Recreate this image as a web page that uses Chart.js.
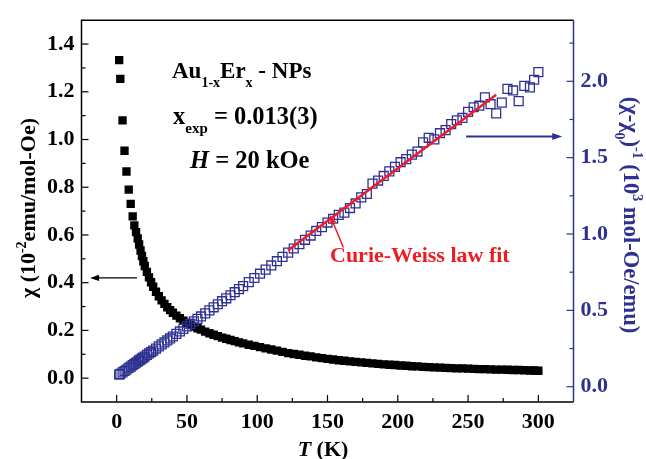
<!DOCTYPE html>
<html>
<head>
<meta charset="utf-8">
<script src="https://cdn.jsdelivr.net/npm/chart.js@4.4.0/dist/chart.umd.min.js"></script>
<style>
  html, body { margin: 0; padding: 0; background: #fff; }
  #chartBox { width: 646px; height: 459px; }
</style>
</head>
<body>
<div id="chartBox"><canvas id="chiChart"></canvas></div>
<script>
// Datos
const temps = [
  1.8, 2.6, 4.2, 5.6, 7.0, 8.6, 10.0, 11.4, 12.6, 13.8,
  15, 16, 17, 18, 19, 20, 21.5, 23, 24.5, 26,
  28, 30, 32, 34, 36, 38, 40, 42.5, 45, 47.5,
  50, 52.5, 55, 57.5, 60, 63, 66, 69, 72, 75,
  78, 81, 84, 87, 90, 94, 98, 102, 106, 110,
  114, 118, 122, 126, 130, 134, 138, 142, 146, 150,
  154, 158, 162, 166, 170, 174, 178, 182, 186, 190,
  194, 198, 202, 206, 210, 214, 218, 222, 226, 230,
  234, 238, 242, 246, 250, 254, 258, 262, 266, 270,
  274, 278, 282, 286, 290, 294, 297, 300
];
const chiValues = [
  1.333, 1.254, 1.080, 0.953, 0.866, 0.790, 0.730, 0.678, 0.640, 0.612,
  0.585, 0.560, 0.535, 0.512, 0.490, 0.470, 0.445, 0.422, 0.402, 0.383,
  0.362, 0.343, 0.326, 0.311, 0.297, 0.285, 0.274, 0.262, 0.251, 0.241,
  0.232, 0.224, 0.216, 0.209, 0.203, 0.195, 0.188, 0.182, 0.176, 0.170,
  0.165, 0.160, 0.155, 0.150, 0.146, 0.140, 0.135, 0.130, 0.125, 0.120,
  0.115, 0.110, 0.105, 0.101, 0.098, 0.094, 0.091, 0.087, 0.084, 0.081,
  0.078, 0.075, 0.073, 0.070, 0.068, 0.066, 0.064, 0.062, 0.060, 0.058,
  0.056, 0.055, 0.053, 0.052, 0.050, 0.049, 0.047, 0.046, 0.045, 0.044,
  0.043, 0.042, 0.041, 0.041, 0.040, 0.039, 0.038, 0.038, 0.037, 0.036,
  0.036, 0.035, 0.034, 0.034, 0.033, 0.032, 0.032, 0.031
];
const invChiValues = [
  0.079, 0.084, 0.094, 0.103, 0.112, 0.123, 0.132, 0.141, 0.149, 0.157,
  0.165, 0.172, 0.178, 0.185, 0.191, 0.198, 0.208, 0.218, 0.227, 0.237,
  0.250, 0.264, 0.277, 0.290, 0.303, 0.316, 0.329, 0.346, 0.362, 0.379,
  0.395, 0.411, 0.428, 0.444, 0.460, 0.480, 0.500, 0.520, 0.540, 0.560,
  0.579, 0.599, 0.619, 0.639, 0.659, 0.685, 0.712, 0.740, 0.767, 0.794,
  0.822, 0.850, 0.878, 0.905, 0.933, 0.962, 0.990, 1.020, 1.045, 1.075,
  1.100, 1.125, 1.140, 1.170, 1.200, 1.240, 1.262, 1.330, 1.350, 1.380,
  1.410, 1.440, 1.470, 1.490, 1.520, 1.540, 1.600, 1.630, 1.620, 1.660,
  1.680, 1.720, 1.745, 1.760, 1.800, 1.830, 1.840, 1.895, 1.850, 1.790,
  1.860, 1.950, 1.940, 1.870, 1.970, 1.960, 2.010, 2.060
];
// recta del ajuste Curie-Weiss (extremos)
const fitTemps = [122, 270];
const fitValues = [0.893, 1.912];

const xTicks = [0, 50, 100, 150, 200, 250, 300];
const xMinorTicks = [25, 75, 125, 175, 225, 275];
const chiTicks = [0.0, 0.2, 0.4, 0.6, 0.8, 1.0, 1.2, 1.4];
const chiMinorTicks = [0.1, 0.3, 0.5, 0.7, 0.9, 1.1, 1.3];
const invTicks = [0.0, 0.5, 1.0, 1.5, 2.0];
const invMinorTicks = [0.25, 0.75, 1.25, 1.75, 2.25];

const NAVY = '#2e3192';
const RED = '#ed1c24';
const SERIF = "'Liberation Serif', 'Times New Roman', serif";

// Texto con subíndices / superíndices
function richWidth(ctx, parts, size) {
    let w = 0;
    for (const [txt, kind] of parts) {
        const small = kind === 'sub' || kind === 'sup';
        const fs = small ? Math.round(size * 0.62) : size;
        ctx.font = `${kind === 'i' ? 'italic ' : ''}bold ${fs}px ${SERIF}`;
        w += ctx.measureText(txt).width;
    }
    return w;
}

function drawRich(ctx, parts, x, y, size, color) {
    let cx = x;
    ctx.fillStyle = color;
    ctx.textBaseline = 'alphabetic';
    ctx.textAlign = 'left';
    for (const [txt, kind] of parts) {
        const small = kind === 'sub' || kind === 'sup';
        const fs = small ? Math.round(size * 0.62) : size;
        ctx.font = `${kind === 'i' ? 'italic ' : ''}bold ${fs}px ${SERIF}`;
        const dy = kind === 'sub' ? size * 0.38 : kind === 'sup' ? -size * 0.42 : 0;
        ctx.fillText(txt, cx, y + dy);
        cx += ctx.measureText(txt).width;
    }
}

function drawArrow(ctx, x1, y1, x2, y2, color, width, head) {
    const ang = Math.atan2(y2 - y1, x2 - x1);
    ctx.save();
    ctx.strokeStyle = color;
    ctx.fillStyle = color;
    ctx.lineWidth = width;
    ctx.beginPath();
    ctx.moveTo(x1, y1);
    ctx.lineTo(x2 - Math.cos(ang) * head * 0.8, y2 - Math.sin(ang) * head * 0.8);
    ctx.stroke();
    ctx.beginPath();
    ctx.moveTo(x2, y2);
    ctx.lineTo(x2 - head * Math.cos(ang) + head * 0.35 * Math.sin(ang), y2 - head * Math.sin(ang) - head * 0.35 * Math.cos(ang));
    ctx.lineTo(x2 - head * Math.cos(ang) - head * 0.35 * Math.sin(ang), y2 - head * Math.sin(ang) + head * 0.35 * Math.cos(ang));
    ctx.closePath();
    ctx.fill();
    ctx.restore();
}

const framePlugin = {
    id: 'frame',
    afterDatasetsDraw(chart) {
        const { ctx, chartArea: a, scales } = chart;
        ctx.save();
        // marcas hacia dentro
        const tick = (scale, values, len, color, side) => {
            ctx.strokeStyle = color;
            ctx.lineWidth = 1.2;
            values.forEach(v => {
                const p = scale.getPixelForValue(v);
                ctx.beginPath();
                if (side === 'bottom') { ctx.moveTo(p, a.bottom); ctx.lineTo(p, a.bottom - len); }
                if (side === 'left') { ctx.moveTo(a.left, p); ctx.lineTo(a.left + len, p); }
                if (side === 'right') { ctx.moveTo(a.right, p); ctx.lineTo(a.right - len, p); }
                ctx.stroke();
            });
        };
        tick(scales.x, xTicks, 7, '#000', 'bottom');
        tick(scales.x, xMinorTicks, 4, '#000', 'bottom');
        tick(scales.y, chiTicks, 7, '#000', 'left');
        tick(scales.y, chiMinorTicks, 4, '#000', 'left');
        tick(scales.y2, invTicks, 7, NAVY, 'right');
        tick(scales.y2, invMinorTicks, 4, NAVY, 'right');

        ctx.lineWidth = 1.5;
        ctx.strokeStyle = '#000';
        ctx.beginPath();
        ctx.moveTo(a.right, a.top);
        ctx.lineTo(a.left, a.top);
        ctx.lineTo(a.left, a.bottom);
        ctx.lineTo(a.right, a.bottom);
        ctx.stroke();
        ctx.strokeStyle = NAVY;
        ctx.beginPath();
        ctx.moveTo(a.right, a.top);
        ctx.lineTo(a.right, a.bottom);
        ctx.stroke();
        ctx.restore();
    },
    afterDraw(chart) {
        const { ctx, scales } = chart;
        const x = scales.x, y = scales.y, y2 = scales.y2;
        ctx.save();

        // flechas
        drawArrow(ctx, x.getPixelForValue(14.5), y.getPixelForValue(0.42),
                  x.getPixelForValue(-18.9), y.getPixelForValue(0.42), '#000', 1.3, 9);
        drawArrow(ctx, x.getPixelForValue(248.6), y2.getPixelForValue(1.638),
                  x.getPixelForValue(317), y2.getPixelForValue(1.638), NAVY, 2, 10);
        drawArrow(ctx, x.getPixelForValue(161.3), y2.getPixelForValue(0.912),
                  x.getPixelForValue(151.7), y2.getPixelForValue(1.126), RED, 1.5, 9);

        // etiquetas
        drawRich(ctx, [['Au', ''], ['1-x', 'sub'], ['Er', ''], ['x', 'sub'], [' - NPs', '']], 172, 78, 23, '#000');
        drawRich(ctx, [['x', ''], ['exp', 'sub'], [' = 0.013(3)', '']], 173, 124, 24.5, '#000');
        drawRich(ctx, [['H', 'i'], [' = 20 kOe', '']], 190, 168, 24.5, '#000');
        drawRich(ctx, [['Curie-Weiss law fit', '']], 330, 262, 22, RED);

        // títulos de ejes
        const bottomTitle = [['T', 'i'], [' (K)', '']];
        drawRich(ctx, bottomTitle, 323 - richWidth(ctx, bottomTitle, 22) / 2, 456, 22, '#000');

        const leftTitle = [['\u03C7 (10', ''], ['-2', 'sup'], ['emu/mol-Oe)', '']];
        ctx.save();
        ctx.translate(35, 208);
        ctx.rotate(-Math.PI / 2);
        drawRich(ctx, leftTitle, -richWidth(ctx, leftTitle, 22) / 2, 0, 22, '#000');
        ctx.restore();

        const rightTitle = [['(\u03C7-\u03C7', ''], ['0', 'sub'], [')', ''], ['-1', 'sup'], [' (10', ''], ['3', 'sup'], [' mol-Oe/emu)', '']];
        ctx.save();
        ctx.translate(624, 215);
        ctx.rotate(Math.PI / 2);
        drawRich(ctx, rightTitle, -richWidth(ctx, rightTitle, 22.5) / 2, 0, 22.5, NAVY);
        ctx.restore();

        ctx.restore();
    }
};

const tickFont = { family: SERIF, size: 22, weight: 'bold' };

new Chart(document.getElementById('chiChart'), {
    type: 'scatter',
    data: {
        datasets: [
            {
                label: 'fit',
                type: 'line',
                data: fitTemps.map((t, i) => ({ x: t, y: fitValues[i] })),
                yAxisID: 'y2',
                borderColor: RED,
                borderWidth: 2.5,
                pointRadius: 0,
                showLine: true,
                order: 1
            },
            {
                label: 'inv',
                data: temps.map((t, i) => ({ x: t, y: invChiValues[i] })),
                yAxisID: 'y2',
                pointStyle: 'rect',
                pointRadius: 6.3,
                borderColor: NAVY,
                borderWidth: 1.3,
                backgroundColor: 'rgba(0,0,0,0)',
                order: 2
            },
            {
                label: 'chi',
                data: temps.map((t, i) => ({ x: t, y: chiValues[i] })),
                yAxisID: 'y',
                pointStyle: 'rect',
                pointRadius: 5.9,
                borderWidth: 0,
                backgroundColor: '#000',
                order: 3
            }
        ]
    },
    options: {
        responsive: true,
        maintainAspectRatio: false,
        animation: false,
        layout: { padding: { top: 13, left: 0, right: 0, bottom: 0 } },
        plugins: { legend: { display: false }, tooltip: { enabled: false } },
        scales: {
            x: {
                type: 'linear',
                min: -25, max: 325,
                grid: { display: false, drawTicks: false },
                border: { display: false },
                afterBuildTicks: s => { s.ticks = xTicks.map(v => ({ value: v })); },
                afterFit: s => { s.height = 57; },
                ticks: { font: tickFont, color: '#000', padding: 7, maxRotation: 0,
                         callback: v => String(v) }
            },
            y: {
                type: 'linear',
                position: 'left',
                min: -0.1, max: 1.5,
                grid: { display: false, drawTicks: false },
                border: { display: false },
                afterBuildTicks: s => { s.ticks = chiTicks.map(v => ({ value: v })); },
                afterFit: s => { s.width = 81.5; },
                ticks: { font: tickFont, color: '#000', padding: 7,
                         callback: v => Number(v).toFixed(1) }
            },
            y2: {
                type: 'linear',
                position: 'right',
                min: -0.1, max: 2.4,
                grid: { display: false, drawTicks: false },
                border: { display: false },
                afterBuildTicks: s => { s.ticks = invTicks.map(v => ({ value: v })); },
                afterFit: s => { s.width = 72.5; },
                ticks: { font: tickFont, color: NAVY, padding: 7,
                         callback: v => Number(v).toFixed(1) }
            }
        }
    },
    plugins: [framePlugin]
});
</script>
</body>
</html>
